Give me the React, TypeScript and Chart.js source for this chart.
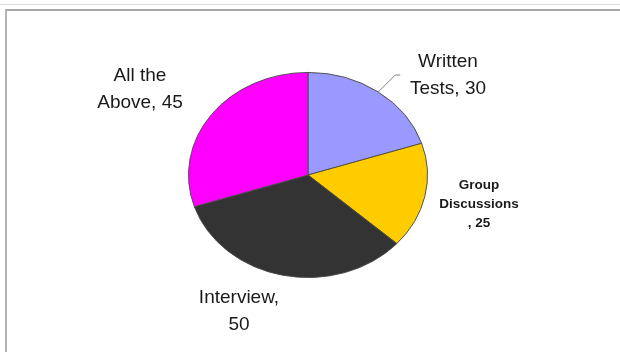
import React, { useEffect, useRef } from "react";
import { Chart, registerables } from "chart.js";

Chart.register(...registerables);

const categories = ["Written Tests", "Group Discussions", "Interview", "All the Above"];
const values = [30, 25, 50, 45];
const sliceColors = ["#9999FF", "#FFCC00", "#333333", "#FF00FF"];
// label text lines as shown in the picture
const labelLines = [
  ["Written", "Tests, 30"],
  ["Group", "Discussions", ", 25"],
  ["Interview,", "50"],
  ["All the", "Above, 45"],
];
// label anchor offsets from the pie centre (px) and font styles
const labelOffsets = [
  [140, -100],
  [171, 29],
  [-69, 136],
  [-168, -86],
];
const labelFonts = [
  { size: 19, weight: "normal", lh: 27 },
  { size: 13.5, weight: "bold", lh: 19 },
  { size: 19, weight: "normal", lh: 27 },
  { size: 19, weight: "normal", lh: 27 },
];

const Y_SCALE = 103 / 120;

const ellipsePlugin = {
  id: "ellipsePie",
  beforeDatasetsDraw(chart: any) {
    const arc = chart.getDatasetMeta(0).data[0];
    if (!arc) return;
    const { ctx } = chart;
    ctx.save();
    ctx.translate(arc.x, arc.y);
    ctx.scale(1, Y_SCALE);
    ctx.translate(-arc.x, -arc.y);
  },
  afterDatasetsDraw(chart: any) {
    const meta = chart.getDatasetMeta(0);
    const arc0 = meta.data[0];
    if (!arc0) return;
    const { ctx } = chart;
    ctx.restore();
    const cx = arc0.x;
    const cy = arc0.y;
    const r = arc0.outerRadius;
    // leader line for first slice
    const a0 = (arc0.startAngle + arc0.endAngle) / 2;
    const sx = cx + Math.cos(a0) * r;
    const sy = cy + Math.sin(a0) * r * Y_SCALE;
    ctx.save();
    ctx.strokeStyle = "#808080";
    ctx.lineWidth = 1;
    ctx.beginPath();
    ctx.moveTo(sx, sy);
    ctx.lineTo(sx + 17, sy - 17);
    ctx.lineTo(sx + 22, sy - 17);
    ctx.stroke();
    ctx.restore();

    ctx.save();
    ctx.fillStyle = "#1a1a1a";
    ctx.textAlign = "center";
    ctx.textBaseline = "middle";
    labelLines.forEach((lines, i) => {
      const f = labelFonts[i];
      ctx.font = `${f.weight} ${f.size}px "Liberation Sans", Arial, sans-serif`;
      const [dx, dy] = labelOffsets[i];
      const x = cx + dx;
      const y0 = cy + dy - ((lines.length - 1) * f.lh) / 2;
      lines.forEach((t, j) => ctx.fillText(t, x, y0 + j * f.lh));
    });
    ctx.restore();
  },
};

export default function App() {
  const ref = useRef<HTMLCanvasElement>(null);
  useEffect(() => {
    document.body.style.margin = "0";
    const chart = new Chart(ref.current!, {
      type: "pie",
      data: {
        labels: categories,
        datasets: [
          {
            data: values,
            backgroundColor: sliceColors,
            borderColor: "#4a4a4a",
            borderWidth: 1,
          },
        ],
      },
      options: {
        animation: false,
        responsive: false,
        layout: { padding: { left: 188, right: 192, top: 55, bottom: 57 } },
        plugins: { legend: { display: false }, tooltip: { enabled: false } },
      },
      plugins: [ellipsePlugin],
    });
    return () => chart.destroy();
  }, []);
  return (
    <div style={{ position: "relative", width: 620, height: 352, background: "#fff", overflow: "hidden" }}>
      <div style={{ position: "absolute", left: 0, top: 4, width: 620, height: 1, background: "#dcdcdc" }} />
      <div
        style={{
          position: "absolute",
          left: 5,
          top: 9,
          width: 640,
          height: 400,
          borderTop: "2px solid #a8a8a8",
          borderLeft: "2px solid #b4b4b4",
        }}
      />
      <canvas ref={ref} width={620} height={352} style={{ position: "absolute", left: 0, top: 0 }} />
    </div>
  );
}
